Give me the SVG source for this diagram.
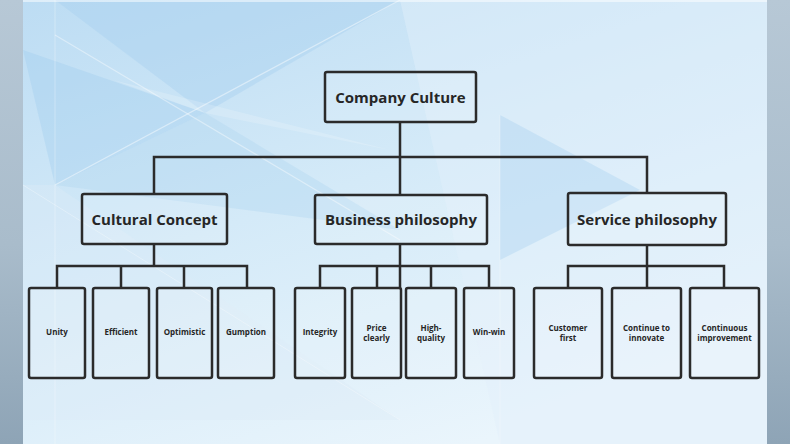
<svg xmlns="http://www.w3.org/2000/svg" width="790" height="444" viewBox="0 0 790 444">
<defs>
<linearGradient id="bg" x1="0" y1="0" x2="0.6" y2="1">
<stop offset="0" stop-color="#bcdcf3"/>
<stop offset="0.5" stop-color="#d4eaf8"/>
<stop offset="1" stop-color="#eaf5fc"/>
</linearGradient>
<linearGradient id="side" x1="0" y1="0" x2="0" y2="1">
<stop offset="0" stop-color="#b7c8d6"/>
<stop offset="0.55" stop-color="#a9bccb"/>
<stop offset="1" stop-color="#8ea4b6"/>
</linearGradient>
<style>
.box{fill:#ffffff;fill-opacity:0.12;stroke:#2b2b2b;stroke-width:2.5}
.ln{fill:none;stroke:#2b2b2b;stroke-width:2.5}
.t1{font-family:"Open Sans","Noto Sans","DejaVu Sans",sans-serif;font-weight:bold;font-size:15px;fill:#262626;text-anchor:middle}
.t3{font-family:"Open Sans","Noto Sans","DejaVu Sans",sans-serif;font-weight:bold;font-size:8px;fill:#262626;text-anchor:middle}
</style>
</defs>
<rect x="0" y="0" width="790" height="444" fill="url(#bg)"/>
<g id="facets">
<polygon points="55,0 400,0 205,113" fill="#a8d0ef" opacity="0.45"/>
<polygon points="23,50 205,113 55,185" fill="#9fcbee" opacity="0.35"/>
<polygon points="205,113 400,230 55,185" fill="#b2d6f1" opacity="0.4"/>
<polygon points="23,185 55,185 400,420 23,420" fill="#dcecf8" opacity="0.4"/>
<polygon points="400,0 767,0 767,444 500,444" fill="#e2f0fa" opacity="0.45"/>
<polygon points="500,115 640,190 500,260" fill="#a9d1ef" opacity="0.4"/>
<polygon points="113,80 205,113 390,150" fill="#ffffff" opacity="0.18"/>
<line x1="55" y1="185" x2="400" y2="0" stroke="#ffffff" stroke-opacity="0.45" stroke-width="1.2"/>
<line x1="55" y1="35" x2="400" y2="240" stroke="#ffffff" stroke-opacity="0.4" stroke-width="1.2"/>
<line x1="55" y1="0" x2="55" y2="444" stroke="#ffffff" stroke-opacity="0.3" stroke-width="1"/>
<line x1="23" y1="185" x2="400" y2="420" stroke="#ffffff" stroke-opacity="0.3" stroke-width="1"/>
<line x1="500" y1="115" x2="500" y2="444" stroke="#ffffff" stroke-opacity="0.25" stroke-width="1"/>
<rect x="0" y="0" width="790" height="2" fill="#ffffff" opacity="0.5"/>
</g>
<rect x="0" y="0" width="23" height="444" fill="url(#side)"/>
<rect x="767" y="0" width="23" height="444" fill="url(#side)"/>
<g id="connectors">
<path class="ln" d="M400,122 V194 M154,194 V157 H647 V194"/>
<path class="ln" d="M154,244 V266 M57,288 V266 H247 V288 M121,266 V288 M184,266 V288"/>
<path class="ln" d="M400,244 V288 M320,288 V266 H489 V288 M377,266 V288 M431,266 V288"/>
<path class="ln" d="M647,245 V288 M568,288 V266 H724 V288"/>
</g>
<g id="root"><rect class="box" x="325" y="72" width="151" height="50" rx="2"/><text class="t1" x="400.5" y="102.5">Company Culture</text></g>
<g id="cultural"><rect class="box" x="82" y="194" width="145" height="50" rx="2"/><text class="t1" x="154.5" y="224.5">Cultural Concept</text></g>
<g id="business"><rect class="box" x="315" y="195" width="172" height="49" rx="2"/><text class="t1" x="401" y="224.5">Business philosophy</text></g>
<g id="service"><rect class="box" x="568" y="193" width="158" height="52" rx="2"/><text class="t1" x="647" y="224.5">Service philosophy</text></g>
<g id="unity"><rect class="box" x="29" y="288" width="56" height="90" rx="2"/><text class="t3" x="57" y="335">Unity</text></g>
<g id="efficient"><rect class="box" x="93" y="288" width="56" height="90" rx="2"/><text class="t3" x="121" y="335">Efficient</text></g>
<g id="optimistic"><rect class="box" x="157" y="288" width="55" height="90" rx="2"/><text class="t3" x="184.5" y="335">Optimistic</text></g>
<g id="gumption"><rect class="box" x="218" y="288" width="56" height="90" rx="2"/><text class="t3" x="246" y="335">Gumption</text></g>
<g id="integrity"><rect class="box" x="295" y="288" width="50" height="90" rx="2"/><text class="t3" x="320" y="335">Integrity</text></g>
<g id="price"><rect class="box" x="352" y="288" width="49" height="90" rx="2"/><text class="t3" x="376.5" y="331">Price</text><text class="t3" x="376.5" y="341">clearly</text></g>
<g id="quality"><rect class="box" x="406" y="288" width="50" height="90" rx="2"/><text class="t3" x="431" y="331">High-</text><text class="t3" x="431" y="341">quality</text></g>
<g id="winwin"><rect class="box" x="464" y="288" width="50" height="90" rx="2"/><text class="t3" x="489" y="335">Win-win</text></g>
<g id="customer"><rect class="box" x="534" y="288" width="68" height="90" rx="2"/><text class="t3" x="568" y="331">Customer</text><text class="t3" x="568" y="341">first</text></g>
<g id="innovate"><rect class="box" x="612" y="288" width="69" height="90" rx="2"/><text class="t3" x="646.5" y="331">Continue to</text><text class="t3" x="646.5" y="341">innovate</text></g>
<g id="improvement"><rect class="box" x="690" y="288" width="69" height="90" rx="2"/><text class="t3" x="724.5" y="331">Continuous</text><text class="t3" x="724.5" y="341">improvement</text></g>
</svg>
